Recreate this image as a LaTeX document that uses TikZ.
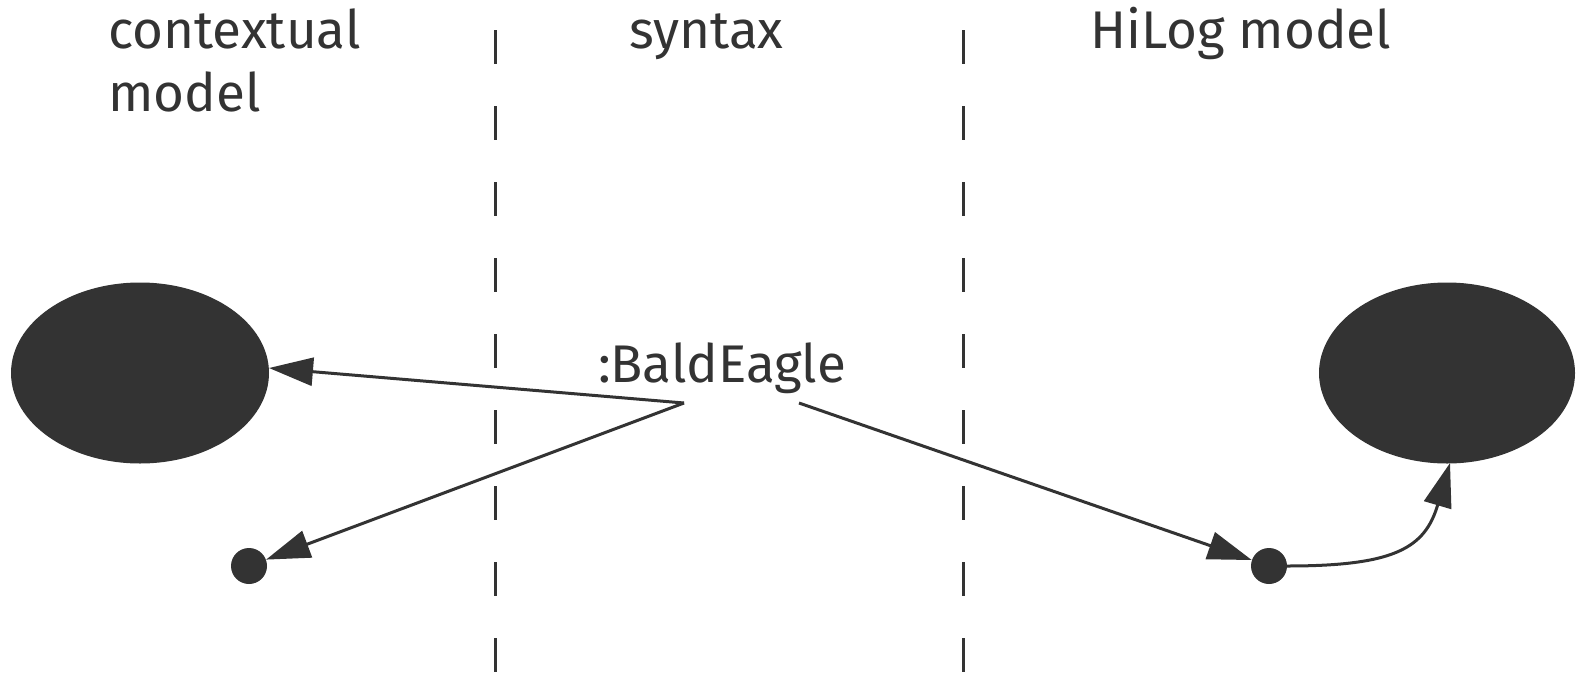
\documentclass[tikz,border=0pt]{standalone}
\usepackage{fontspec}
\setmainfont{Fira Sans}
\usetikzlibrary{arrows.meta}
\definecolor{ink}{HTML}{333333}
\begin{document}
\begin{tikzpicture}[x=1pt,y=-1pt,
  lbl/.style={inner sep=0pt,text=ink,font=\fontsize{53}{63}\selectfont},
  lane/.style={draw=ink,line width=3pt,dash pattern=on 34pt off 42pt},
  dot/.style={fill=ink,draw=none,circle,minimum size=36pt,inner sep=0pt},
  link/.style={draw=ink,line width=3pt,-{Triangle[length=44pt,width=28pt]}}]
\useasboundingbox (0,0) rectangle (1576,680);
% lane separators
\draw[lane] (495.5,30) -- (495.5,680);
\draw[lane] (963,30) -- (963,680);
% lane headings (base anchor sits on the last line)
\node[lbl,anchor=base west,align=left] (hctx) at (108,111) {contextual\\model};
\node[lbl,anchor=base west] (hsyn) at (629,48) {syntax};
\node[lbl,anchor=base west] (hhilog) at (1090,48) {HiLog model};
% model elements
\fill[ink] (140,373) ellipse [x radius=129, y radius=90.5];
\coordinate (ctxE) at (269,368);
\fill[ink] (1447,373) ellipse [x radius=128, y radius=90.5];
\coordinate (hiB) at (1450,463);
\node[dot] (ctxdot) at (249,566) {};
\node[dot] (hidot) at (1269,566) {};
% syntax term
\node[lbl,anchor=base] (term) at (722,382) {:BaldEagle};
\coordinate (termL) at (684,403);
\coordinate (termR) at (799,403);
% mappings
\draw[link] (termL) -- (ctxE);
\draw[link] (termL) -- (ctxdot);
\draw[link] (termR) -- (hidot);
\draw[link] (hidot.east) .. controls (1395,566) and (1425,548) .. (hiB);
\end{tikzpicture}
\end{document}
